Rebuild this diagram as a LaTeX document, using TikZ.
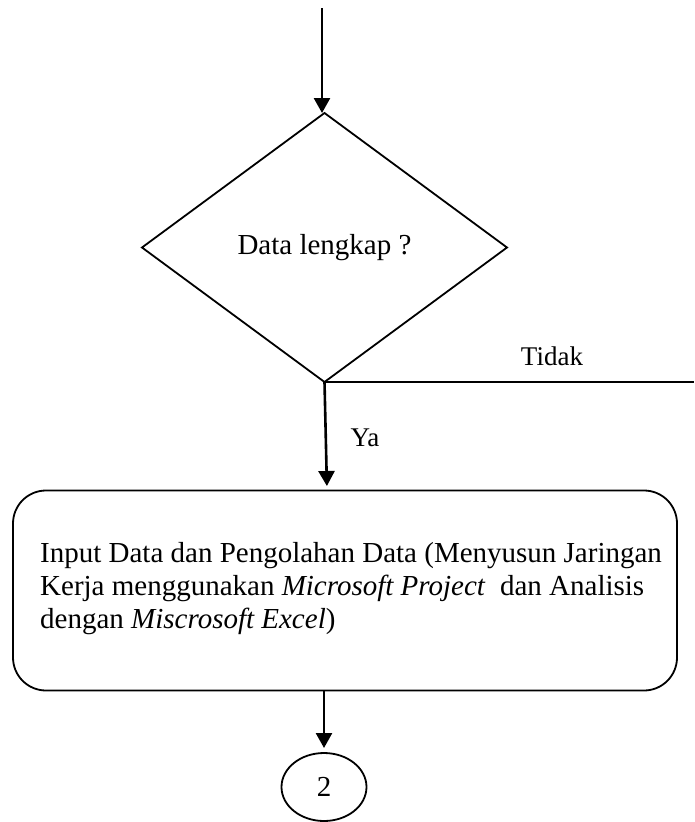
\documentclass[tikz,border=0pt]{standalone}
\usepackage{fontspec}
\setmainfont{Liberation Serif}
\usetikzlibrary{shapes.geometric,arrows.meta}
\begin{document}
\begin{tikzpicture}[x=1pt,y=-1pt,
  shapeline/.style={draw=black, line width=1.8pt, outer sep=0pt, inner sep=0pt},
  flow/.style={line width=2.6pt, -{Triangle[width=16pt,length=15pt]}},
  lbl/.style={font=\fontsize{27}{32}\selectfont, inner sep=0pt},
  bodytext/.style={font=\fontsize{29}{33}\selectfont, inner sep=0pt}]
\useasboundingbox (0,0) rectangle (694,822);
\fill[white] (0,0) rectangle (694,822);

% decision
\node[diamond, shapeline, minimum width=365pt, minimum height=269pt, bodytext] (dia) at (324.5,247.5) {Data lengkap ?};

% process box
\node[shapeline, rounded corners=33pt, minimum width=664pt, minimum height=200pt] (proc) at (345,590.5) {};
\node[bodytext, anchor=west, align=left] (proctext) at (40,589)
  {Input Data dan Pengolahan Data (Menyusun Jaringan\\
   Kerja menggunakan \textit{Microsoft Project}\ \ dan Analisis\\
   dengan \textit{Miscrosoft Excel})};

% connector
\node[ellipse, shapeline, minimum width=85pt, minimum height=68pt, bodytext] (circ) at (324,787) {2};

% arrows and lines
\coordinate (start) at (322,8);
\draw[flow] (start) -- (start |- dia.north);

\coordinate (tidakend) at (694,382);
\draw[line width=2.4pt] (dia.south) -- (tidakend);
\node[lbl, anchor=base] (tidak) at (552,365) {Tidak};

\coordinate (yaend) at (327,490);
\draw[flow, shorten >=4pt] (dia.south) -- (yaend);
\node[lbl, anchor=base] (ya) at (365,446) {Ya};

\draw[flow, shorten >=5pt] (circ.north |- proc.south) -- (circ.north);
\end{tikzpicture}
\end{document}
